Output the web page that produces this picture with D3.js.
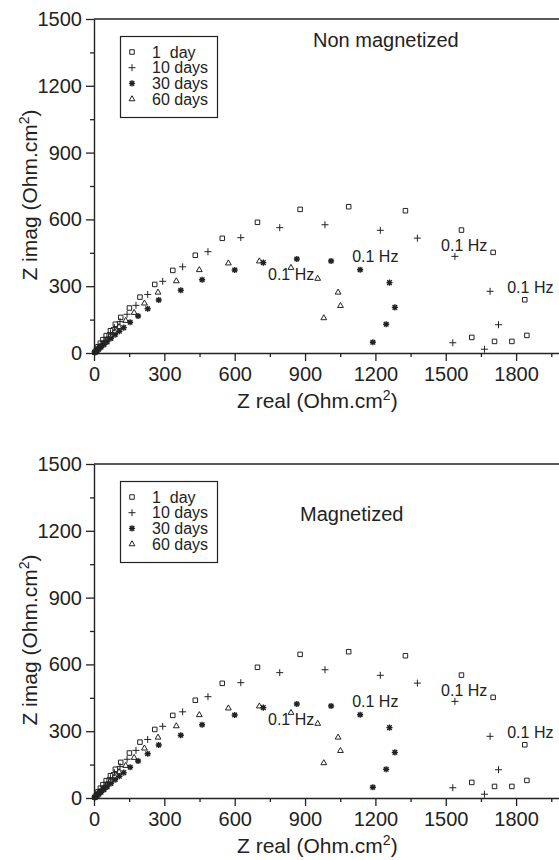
<!DOCTYPE html>
<html>
<head>
<meta charset="utf-8">
<script src="https://cdn.jsdelivr.net/npm/d3@7"></script>
<style>
body { margin: 0; background: #fff; }
text { font-family: "Liberation Sans", Arial, sans-serif; fill: #222; }
</style>
</head>
<body>
<div id="chart"></div>
<script>
var width = 559, height = 860;

// Nyquist points (both panels show the same points)
var day1Re  = [3, 10, 17, 27, 38, 52, 70, 91, 114, 151, 196, 259, 336, 432, 547, 697, 879, 1086, 1328, 1567, 1702, 1837, 1846, 1782, 1708, 1611];
var day1Im  = [3, 13, 28, 44, 60, 78, 100, 129, 160, 202, 251, 308, 371, 439, 515, 587, 645, 657, 639, 552, 452, 239, 79, 52, 52, 70];
var day10Re = [4, 9, 15, 22, 31, 42, 55, 70, 87, 111, 141, 179, 229, 293, 378, 486, 626, 792, 985, 1221, 1379, 1539, 1689, 1725, 1665, 1530];
var day10Im = [5, 11, 19, 28, 39, 53, 71, 91, 114, 141, 174, 214, 263, 322, 387, 455, 518, 563, 576, 551, 516, 434, 277, 127, 17, 46];
var day30Re = [5, 12, 20, 30, 42, 56, 72, 90, 108, 127, 154, 188, 229, 276, 370, 461, 600, 722, 865, 1011, 1135, 1260, 1283, 1246, 1189];
var day30Im = [4, 10, 17, 26, 37, 50, 65, 82, 98, 114, 138, 166, 199, 238, 282, 329, 373, 406, 422, 413, 374, 316, 205, 129, 48];
var day60Re = [4, 10, 18, 28, 40, 54, 70, 88, 107, 135, 171, 215, 273, 351, 449, 573, 705, 840, 954, 1041, 1051, 980];
var day60Im = [4, 11, 20, 31, 44, 59, 77, 96, 117, 145, 181, 223, 272, 323, 373, 403, 412, 383, 334, 272, 212, 157];

var seriesLabels = ["1  day", "10 days", "30 days", "60 days"];
var panelTitles = ["Non magnetized", "Magnetized"];
var xTicks = [0, 300, 600, 900, 1200, 1500, 1800];
var yTicks = [0, 300, 600, 900, 1200, 1500];
var hzRe = [742, 1101, 1480, 1762];
var hzIm = [328, 409, 458, 269];

var series = [
  {label: seriesLabels[0], re: day1Re,  im: day1Im},
  {label: seriesLabels[1], re: day10Re, im: day10Im},
  {label: seriesLabels[2], re: day30Re, im: day30Im},
  {label: seriesLabels[3], re: day60Re, im: day60Im}
];

// small thin plus and 8 arm asterisk, drawn as open strokes
var symbolCross = {
  draw: function(ctx, size) {
    var r = Math.sqrt(size) * 0.8;
    ctx.moveTo(-r, 0); ctx.lineTo(r, 0);
    ctx.moveTo(0, -r); ctx.lineTo(0, r);
  }
};
var symbolStar = {
  draw: function(ctx, size) {
    var r = Math.sqrt(size) * 0.6, d = r * 0.75;
    ctx.moveTo(-r, 0); ctx.lineTo(r, 0);
    ctx.moveTo(0, -r); ctx.lineTo(0, r);
    ctx.moveTo(-d, -d); ctx.lineTo(d, d);
    ctx.moveTo(-d, d); ctx.lineTo(d, -d);
  }
};
var symbols = [
  d3.symbol(d3.symbolSquare2, 26)(),
  d3.symbol(symbolCross, 19)(),
  d3.symbol(symbolStar, 26)(),
  d3.symbol(d3.symbolTriangle2, 24)()
];

var x = d3.scaleLinear().domain([0, 2000]).range([94, 563]);
var y = d3.scaleLinear().domain([0, 1500]).range([353, 19]);

var svg = d3.select("#chart").append("svg")
    .attr("width", width)
    .attr("height", height);

var panelOffsets = [0, 445];
var titlePos = [[313, 47], [300, 76]];

panelOffsets.forEach(function(off, pi) {
  var g = svg.append("g").attr("transform", "translate(0," + off + ")");

  // top frame line
  g.append("line")
    .attr("x1", x(0)).attr("x2", width)
    .attr("y1", y(1500)).attr("y2", y(1500))
    .attr("stroke", "#222").attr("stroke-width", 1.4);

  // minor ticks
  g.append("g")
    .attr("transform", "translate(0," + y(0) + ")")
    .call(d3.axisBottom(x).tickValues(d3.range(150, 2000, 300)).tickSize(4).tickFormat(""))
    .call(function(a) { a.select(".domain").remove(); a.selectAll("line").attr("stroke", "#222").attr("stroke-width", 1.3); });
  g.append("g")
    .attr("transform", "translate(" + x(0) + ",0)")
    .call(d3.axisLeft(y).tickValues(d3.range(150, 1500, 300)).tickSize(4).tickFormat(""))
    .call(function(a) { a.select(".domain").remove(); a.selectAll("line").attr("stroke", "#222").attr("stroke-width", 1.3); });

  var xa = g.append("g")
    .attr("transform", "translate(0," + y(0) + ")")
    .call(d3.axisBottom(x).tickValues(xTicks).tickFormat(d3.format("d"))
      .tickSize(8).tickSizeOuter(0).tickPadding(6));
  var ya = g.append("g")
    .attr("transform", "translate(" + x(0) + ",0)")
    .call(d3.axisLeft(y).tickValues(yTicks).tickFormat(d3.format("d"))
      .tickSize(8).tickSizeOuter(0).tickPadding(4));
  [xa, ya].forEach(function(a) {
    a.select(".domain").attr("stroke", "#222").attr("stroke-width", 1.4);
    a.selectAll(".tick line").attr("stroke", "#222").attr("stroke-width", 1.3);
    a.selectAll("text").attr("fill", "#222").style("font-size", "20px")
      .style("font-family", "'Liberation Sans', Arial, sans-serif");
  });

  // axis titles
  var xt = g.append("text").attr("x", 237).attr("y", 408).style("font-size", "21px");
  xt.append("tspan").text("Z real (Ohm.cm");
  xt.append("tspan").attr("dy", -8).style("font-size", "14px").text("2");
  xt.append("tspan").attr("dy", 8).text(")");

  var yt = g.append("text")
    .attr("transform", "translate(37," + (y(750) + 9) + ") rotate(-90)")
    .attr("text-anchor", "middle")
    .style("font-size", "21px");
  yt.append("tspan").text("Z imag (Ohm.cm");
  yt.append("tspan").attr("dy", -8).style("font-size", "14px").text("2");
  yt.append("tspan").attr("dy", 8).text(")");

  g.append("text")
    .attr("x", titlePos[pi][0]).attr("y", titlePos[pi][1])
    .style("font-size", "20px")
    .text(panelTitles[pi]);

  // points
  series.forEach(function(s, si) {
    g.append("g").selectAll("path")
      .data(s.re.map(function(v, i) { return [v, s.im[i]]; }))
      .enter().append("path")
        .attr("transform", function(d) { return "translate(" + x(d[0]) + "," + y(d[1]) + ")"; })
        .attr("d", symbols[si])
        .attr("fill", "none")
        .attr("stroke", "#222")
        .attr("stroke-width", si == 2 ? 1.4 : 1);
  });

  // frequency labels
  g.selectAll(".hz")
    .data(hzRe)
    .enter().append("text")
      .attr("class", "hz")
      .attr("x", function(d) { return x(d); })
      .attr("y", function(d, i) { return y(hzIm[i]); })
      .style("font-size", "16px")
      .text("0.1 Hz");

  // legend
  var lg = g.append("g");
  lg.append("rect")
    .attr("x", 120.5).attr("y", 36.5).attr("width", 97).attr("height", 81)
    .attr("fill", "#fff").attr("stroke", "#222").attr("stroke-width", 1.2);
  series.forEach(function(s, si) {
    var cy = 52 + si * 15.7;
    lg.append("path")
      .attr("transform", "translate(132," + cy + ")")
      .attr("d", symbols[si])
      .attr("fill", "none").attr("stroke", "#222")
      .attr("stroke-width", si == 2 ? 1.4 : 1);
    lg.append("text")
      .attr("x", 152).attr("y", cy + 5.5)
      .style("font-size", "16px")
      .style("white-space", "pre")
      .text(s.label);
  });
});
</script>
</body>
</html>
